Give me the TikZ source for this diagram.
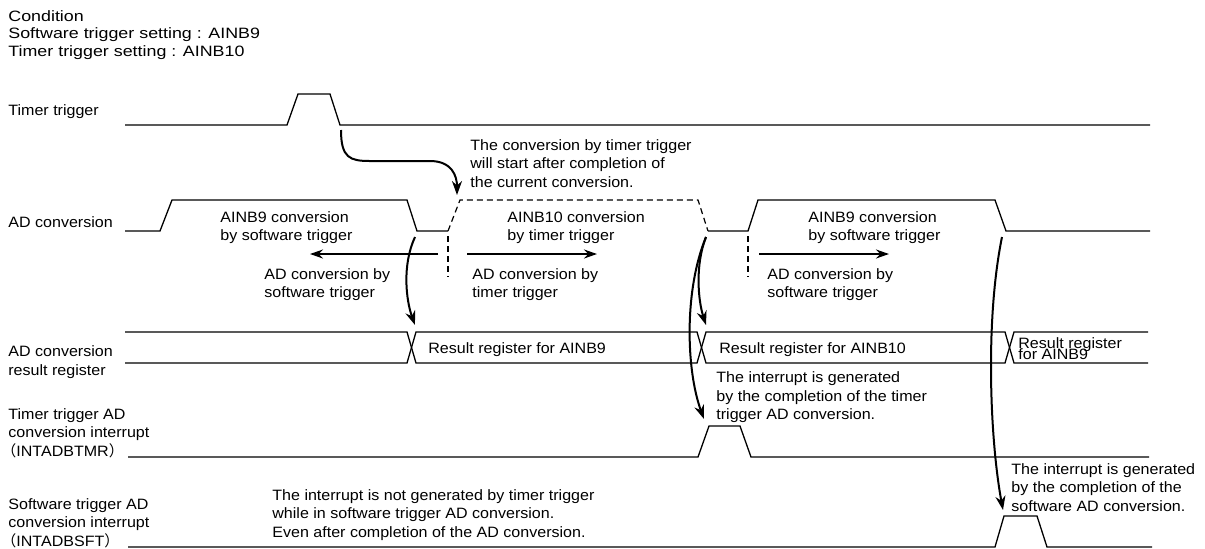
\documentclass[tikz,border=0pt]{standalone}
\usepackage{fontspec}
\setmainfont{Liberation Sans}[FakeStretch=1.07]
\newfontfamily\condfont{Liberation Sans}[FakeStretch=1.19]
\newfontfamily\cjk{Noto Sans CJK JP}
\usetikzlibrary{arrows.meta}

\tikzset{
  sig/.style={line width=0.65pt},
  guide/.style={line width=0.6pt, dash pattern=on 3pt off 2pt},
  lbl/.style={anchor=north west, inner sep=0pt, align=left, font=\fontsize{7.5}{9.2}\selectfont},
  flow/.style={line width=1pt, -{Stealth[length=7pt,width=5pt]}},
  span/.style={line width=1pt, -{Stealth[length=6.5pt,width=4.5pt]}},
}

\begin{document}
\begin{tikzpicture}[x=0.5pt, y=-0.5pt]
    \useasboundingbox (0,0) rectangle (1205,548);

    % Row labels
    \node[lbl, font=\condfont\fontsize{7.5}{8.75}\selectfont] (cond) at (8,10) {Condition\\Software trigger setting : AINB9\\Timer trigger setting : AINB10};
    \node[lbl] (lbltmr) at (8,104) {Timer trigger};
    \node[lbl] (lblad) at (8,216) {AD conversion};
    \node[lbl] (lblreg) at (8,345.5) {AD conversion\\result register};
    \node[lbl] (lblitmr) at (8,408) {Timer trigger AD\\conversion interrupt\\\hspace*{-3.5pt}{\cjk （}INTADBTMR{\cjk ）}};
    \node[lbl] (lblisft) at (8,498) {Software trigger AD\\conversion interrupt\\\hspace*{-3.5pt}{\cjk （}INTADBSFT{\cjk ）}};

    % Timer trigger
    \draw[sig] (125,125) -- (287,125) -- (298,94) -- (330,94) -- (340,125) -- (1150,125);

    % AD conversion (dashed part = pending timer conversion)
    \draw[sig] (125,231) -- (160,231) -- (172,200) -- (407,200) -- (417,231) -- (448,231);
    \draw[sig, guide] (448,231) -- (460,200) -- (698,200) -- (708,231);
    \draw[sig] (708,231) -- (748,231) -- (758,200) -- (995,200) -- (1006,231) -- (1150,231);
    \draw[guide] (448,236) -- (448,277);
    \draw[guide] (748,236) -- (748,277);

    % AD conversion result register
    \draw[sig] (125,332) -- (407,332) -- (416,363) -- (697,363) -- (706,332) -- (1005,332) -- (1014,363) -- (1148,363);
    \draw[sig] (125,363) -- (407,363) -- (416,332) -- (697,332) -- (706,363) -- (1005,363) -- (1014,332) -- (1148,332);

    % Interrupts
    \draw[sig] (128,457) -- (698,457) -- (709,426) -- (740,426) -- (751,457) -- (1149,457);
    \draw[sig] (128,547) -- (995,547) -- (1004,516) -- (1037,516) -- (1047,547) -- (1152,547);

    % Texts on the waveforms
    \node[lbl] (notestart) at (470,139) {The conversion by timer trigger\\will start after completion of\\the current conversion.};
    \node[lbl] (swtxt1) at (220,211) {AINB9 conversion\\by software trigger};
    \node[lbl] (swdir1) at (264,268) {AD conversion by\\software trigger};
    \node[lbl] (tmtxt) at (507,211) {AINB10 conversion\\by timer trigger};
    \node[lbl] (tmdir) at (472,268) {AD conversion by\\timer trigger};
    \node[lbl] (swtxt2) at (808,211) {AINB9 conversion\\by software trigger};
    \node[lbl] (swdir2) at (767,268) {AD conversion by\\software trigger};
    \node[lbl] (reg9) at (428,342.5) {Result register for AINB9};
    \node[lbl] (reg10) at (719,342.5) {Result register for AINB10};
    \node[lbl] (reg9b) at (1018,337) {Result register\\[-3.7pt]for AINB9};
    \node[lbl] (notetmr) at (716,371.5) {The interrupt is generated\\by the completion of the timer\\trigger AD conversion.};
    \node[lbl] (notesft) at (1011,463) {The interrupt is generated\\by the completion of the\\software AD conversion.};
    \node[lbl] (notenot) at (272,489) {The interrupt is not generated by timer trigger\\while in software trigger AD conversion.\\Even after completion of the AD conversion.};

    % Arrow end points
    \coordinate (tfall) at (341,130);
    \coordinate (tmstart) at (457,195);
    \coordinate (adend1) at (415,237);
    \coordinate (reg1) at (415,325);
    \coordinate (adend2) at (706,237);
    \coordinate (reg2) at (706,325);
    \coordinate (itmr) at (704,419);
    \coordinate (adend3) at (1002,237);
    \coordinate (isft) at (1003,510);

    % Timer trigger waits for current conversion
    \draw[flow] (tfall) .. controls (341,158) and (350,161) .. (370,161) -- (430,161) .. controls (452,161) and (457,176) .. (tmstart);

    % Completion arrows
    \draw[flow] (adend1) .. controls (402,265) and (406,300) .. (reg1);
    \draw[flow] (adend2) .. controls (695,265) and (698,300) .. (reg2);
    \draw[flow] (adend2) .. controls (684,290) and (686,370) .. (itmr);
    \draw[flow] (adend3) .. controls (985,320) and (990,440) .. (isft);

    % Direction of each conversion
    \coordinate (d1s) at (438,254);
    \coordinate (d1e) at (310,254);
    \coordinate (d2s) at (467,254);
    \coordinate (d2e) at (597,254);
    \coordinate (d3s) at (759,254);
    \coordinate (d3e) at (889,254);
    \draw[span] (d1s) -- (d1e);
    \draw[span] (d2s) -- (d2e);
    \draw[span] (d3s) -- (d3e);
\end{tikzpicture}
\end{document}
